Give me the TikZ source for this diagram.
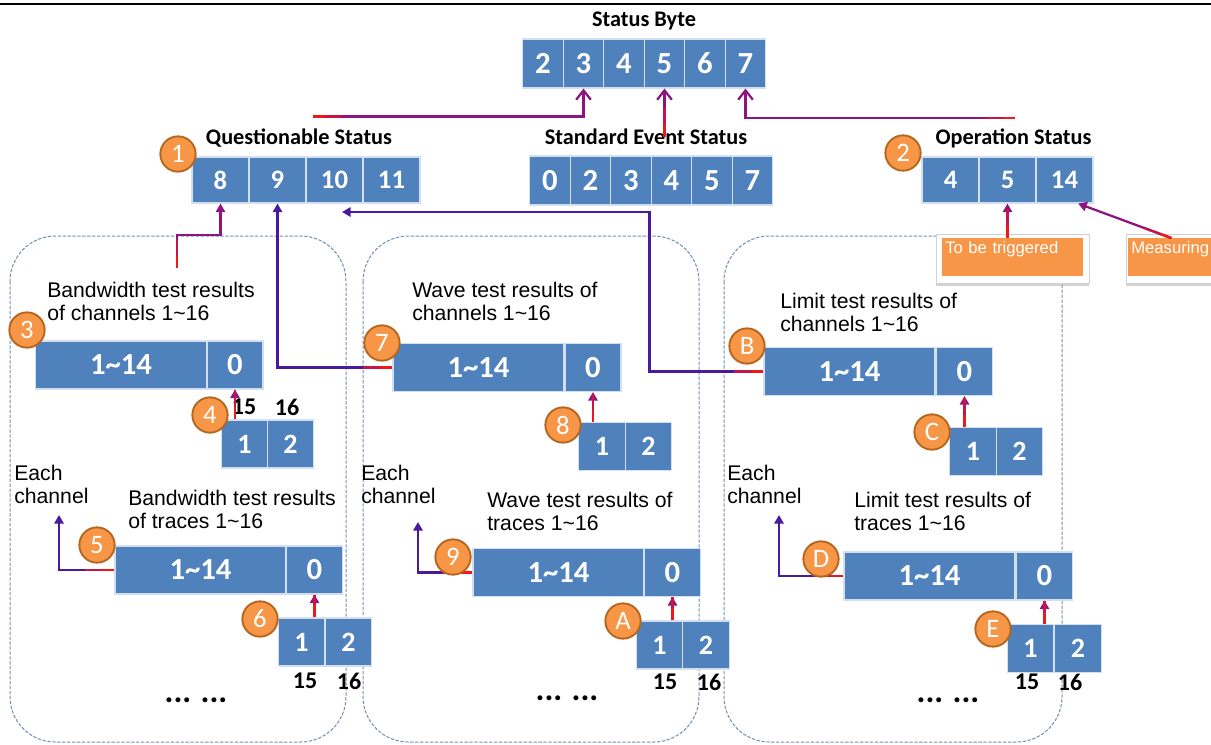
\documentclass[tikz,border=0pt]{standalone}
\usepackage{fontspec}
\setmainfont{Liberation Sans}
\newfontfamily\calibrifont{Carlito}
\usetikzlibrary{arrows.meta,shadows}
\definecolor{cellblue}{HTML}{4F81BD}
\definecolor{badgeorange}{HTML}{F79646}
\definecolor{badgerim}{HTML}{B5651D}
\definecolor{panelline}{HTML}{7090B0}
\definecolor{linkmagenta}{HTML}{8E1480}
\definecolor{linkviolet}{HTML}{4A1A9E}
\definecolor{linkred}{HTML}{F01818}

\begin{document}
\begin{tikzpicture}[x=0.75pt,y=-0.75pt]
    \tikzset{
        bit cell/.style={fill=cellblue, draw=white!75!cellblue, line width=0.8pt,
            text=white, inner sep=0pt, font=\calibrifont\bfseries\fontsize{21}{21}\selectfont},
        byte cell/.style={bit cell, minimum width=30.4pt, minimum height=36.75pt,
            font=\calibrifont\bfseries\fontsize{23}{23}\selectfont},
        word cell/.style={bit cell, minimum width=42.75pt, minimum height=34.5pt,
            font=\calibrifont\bfseries\fontsize{20}{20}\selectfont},
        range cell/.style={bit cell, minimum width=128.25pt, minimum height=36pt,
            font=\calibrifont\bfseries\fontsize{23}{23}\selectfont},
        zero cell/.style={range cell, minimum width=42pt},
        pair cell/.style={bit cell, minimum width=35pt, minimum height=36pt},
        group title/.style={inner sep=1pt, font=\calibrifont\bfseries\fontsize{16.7}{18}\selectfont},
        panel text/.style={anchor=west, align=left, inner sep=0pt, font=\fontsize{15.9}{17.3}\selectfont},
        bit label/.style={inner sep=0pt, font=\calibrifont\bfseries\fontsize{18}{18}\selectfont},
        more dots/.style={inner sep=0pt, font=\calibrifont\bfseries\fontsize{25}{25}\selectfont},
        badge/.style={circle, fill=badgeorange, draw=badgerim, line width=1.4pt, minimum size=26.5pt,
            inner sep=0pt, text=white, font=\calibrifont\fontsize{20}{20}\selectfont},
        panel box/.style={draw=panelline, line width=0.75pt, dash pattern=on 2.5pt off 1.2pt, rounded corners=34pt},
        tag frame/.style={fill=white, draw=black!18, line width=0.5pt,
            drop shadow={shadow xshift=0pt, shadow yshift=-2pt, opacity=0.35}},
        state tag/.style={fill=badgeorange, text=white, anchor=north west, inner xsep=2.25pt, inner ysep=2pt,
            text height=9.5pt, text depth=15pt, font=\fontsize{12.5}{14}\selectfont},
        link/.style={draw=linkmagenta, line width=1.7pt, -{Triangle[length=6.5pt,width=7pt]},
            postaction={draw=linkred!55!linkmagenta, arrows=-, dash pattern=on 22pt off 1000pt},
            postaction={draw=linkred, arrows=-, dash pattern=on 9pt off 1000pt}},
        link violet/.style={link, draw=linkviolet},
        top link/.style={link, -{Straight Barb[length=7pt,width=11pt]}}
    }
    \useasboundingbox (0,0) rectangle (1211,744);

    \draw[line width=2.2pt] (0,4) -- (1211,4);

    \draw[panel box] (10,236) rectangle (346,742);
    \draw[panel box] (363,236) rectangle (699,742);
    \draw[panel box] (724,236) rectangle (1062,742);

    \node[group title] (sbtitle) at (644,21) {Status Byte};
    \node[byte cell] (sb2) at (543,63.5) {2};
    \node[byte cell] (sb3) at (583.5,63.5) {3};
    \node[byte cell] (sb4) at (624,63.5) {4};
    \node[byte cell] (sb5) at (664.5,63.5) {5};
    \node[byte cell] (sb6) at (705,63.5) {6};
    \node[byte cell] (sb7) at (745.5,63.5) {7};

    \node[group title] (qstitle) at (299,138) {Questionable Status};
    \node[word cell] (qs8) at (220.5,180) {8};
    \node[word cell] (qs9) at (277.5,180) {9};
    \node[word cell] (qs10) at (334.5,180) {10};
    \node[word cell] (qs11) at (391.5,180) {11};

    \node[group title] (setitle) at (646,137) {Standard Event Status};
    \node[byte cell] (se0) at (550,180.5) {0};
    \node[byte cell] (se2) at (590.5,180.5) {2};
    \node[byte cell] (se3) at (631,180.5) {3};
    \node[byte cell] (se4) at (671.5,180.5) {4};
    \node[byte cell] (se5) at (712,180.5) {5};
    \node[byte cell] (se7) at (752.5,180.5) {7};

    \node[group title] (ostitle) at (1013.5,138) {Operation Status};
    \node[word cell] (os4) at (950.5,180) {4};
    \node[word cell] (os5) at (1007.5,180) {5};
    \node[word cell] (os14) at (1064.5,180) {14};

    \draw[tag frame] (936,234) rectangle (1089,283);
    \draw[tag frame] (1126,234) rectangle (1215,283);
    \node[state tag, text width=101.25pt] (trig) at (942,238) {To be triggered};
    \node[state tag, text width=60pt] (meas) at (1128,238) {Measuring};

    \node[panel text] (bwchtext) at (47,301.5) {Bandwidth test results\\of channels 1\textasciitilde16};
    \node[range cell] (bwch) at (121,365) {1\textasciitilde14};
    \node[zero cell] (bwch0) at (235,365) {0};
    \node[pair cell] (bwch1) at (244.5,444) {1};
    \node[pair cell] (bwch2) at (290.5,444) {2};
    \node[bit label] (bwchl15) at (244,407) {15};
    \node[bit label] (bwchl16) at (287,407) {16};
    \node[panel text] (bweach) at (14,484.5) {Each\\channel};
    \node[panel text] (bwtrtext) at (128,509.5) {Bandwidth test results\\of traces 1\textasciitilde16};
    \node[range cell] (bwtr) at (200.5,570) {1\textasciitilde14};
    \node[zero cell] (bwtr0) at (314.5,570) {0};
    \node[pair cell] (bwtr1) at (301.5,642) {1};
    \node[pair cell] (bwtr2) at (348.5,642) {2};
    \node[bit label] (bwtrl15) at (305,681) {15};
    \node[bit label] (bwtrl16) at (349,681) {16};
    \node[more dots] (bwmore) at (196,700) {...\hspace{7pt}...};

    \node[panel text] (wvchtext) at (412,301.5) {Wave test results of\\channels 1\textasciitilde16};
    \node[range cell] (wvch) at (478.5,367.5) {1\textasciitilde14};
    \node[zero cell] (wvch0) at (593,367.5) {0};
    \node[pair cell] (wvch1) at (602,446.5) {1};
    \node[pair cell] (wvch2) at (648.5,446.5) {2};
    \node[panel text] (wveach) at (361,484.5) {Each\\channel};
    \node[panel text] (wvtrtext) at (487,511) {Wave test results of\\traces 1\textasciitilde16};
    \node[range cell] (wvtr) at (558.5,572.5) {1\textasciitilde14};
    \node[zero cell] (wvtr0) at (672.5,572.5) {0};
    \node[pair cell] (wvtr1) at (659.5,645) {1};
    \node[pair cell] (wvtr2) at (706,645) {2};
    \node[bit label] (wvtrl15) at (665,682) {15};
    \node[bit label] (wvtrl16) at (709,682) {16};
    \node[more dots] (wvmore) at (567,698) {...\hspace{7pt}...};

    \node[panel text] (lmchtext) at (780,312) {Limit test results of\\channels 1\textasciitilde16};
    \node[range cell] (lmch) at (849.5,371.5) {1\textasciitilde14};
    \node[zero cell] (lmch0) at (964.5,371.5) {0};
    \node[pair cell] (lmch1) at (973,451.5) {1};
    \node[pair cell] (lmch2) at (1019.5,451.5) {2};
    \node[panel text] (lmeach) at (727,484.5) {Each\\channel};
    \node[panel text] (lmtrtext) at (854,511.5) {Limit test results of\\traces 1\textasciitilde16};
    \node[range cell] (lmtr) at (929.5,576) {1\textasciitilde14};
    \node[zero cell] (lmtr0) at (1044.5,576) {0};
    \node[pair cell] (lmtr1) at (1030.5,648.5) {1};
    \node[pair cell] (lmtr2) at (1078,648.5) {2};
    \node[bit label] (lmtrl15) at (1027,682) {15};
    \node[bit label] (lmtrl16) at (1070,682) {16};
    \node[more dots] (lmmore) at (948,700) {...\hspace{7pt}...};

    \coordinate (qstail) at (313,116.5);
    \coordinate (ostail) at (1015,118);
    \coordinate (bwtail) at (177,268);
    \coordinate (qsin) at (342,212);
    \coordinate (bweachtip) at (59,515);
    \coordinate (wveachtip) at (418,522);
    \coordinate (lmeachtip) at (779,515);

    \draw[top link] (qstail) -| (sb3.south);
    \draw[top link] (setitle.center -| sb5.south) -- (sb5.south);
    \draw[top link] (ostail) -| (sb7.south);
    \draw[link] (bwtail) -- ++(0,-33) -| (qs8.south);
    \draw[link violet] (wvch.west) -| (qs9.south);
    \draw[link violet] (lmch.west) -- ++(-114,0) |- (qsin);
    \draw[link] (trig.north -| os5.south) -- (os5.south);
    \draw[link] (meas.north) -- (os14.-60);

    \draw[link] (bwch0.south |- bwch1.north) -- (bwch0.south);
    \draw[link] (bwtr0.south |- bwtr1.north) -- (bwtr0.south);
    \draw[link] (wvch0.south |- wvch1.north) -- (wvch0.south);
    \draw[link] (wvtr0.south |- wvtr1.north) -- (wvtr0.south);
    \draw[link] (lmch0.south |- lmch1.north) -- (lmch0.south);
    \draw[link] (lmtr0.south |- lmtr1.north) -- (lmtr0.south);

    \draw[link violet] (bwtr.west) -| (bweachtip);
    \draw[link violet] (wvtr.west) -| (wveachtip);
    \draw[link violet] (lmtr.west) -| (lmeachtip);

    \node[badge] (n1) at (178,154) {1};
    \node[badge] (n2) at (903,153) {2};
    \node[badge] (n3) at (27,330) {3};
    \node[badge] (n4) at (210,415) {4};
    \node[badge] (n5) at (97,545) {5};
    \node[badge] (n6) at (260,619) {6};
    \node[badge] (n7) at (382,343) {7};
    \node[badge] (n8) at (563,425) {8};
    \node[badge] (n9) at (453,557) {9};
    \node[badge] (nA) at (623,621) {A};
    \node[badge] (nB) at (747,346) {B};
    \node[badge] (nC) at (932,432) {C};
    \node[badge] (nD) at (821,559) {D};
    \node[badge] (nE) at (993,629) {E};
\end{tikzpicture}
\end{document}
